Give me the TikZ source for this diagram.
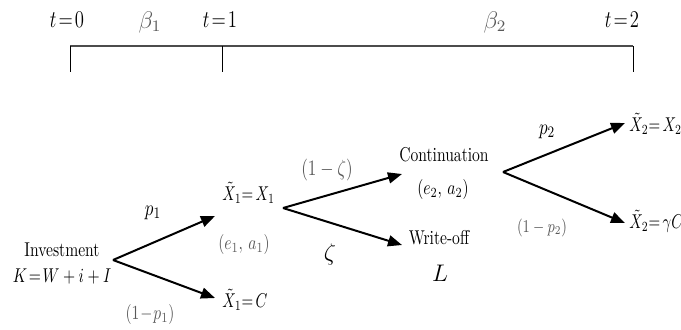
\documentclass[tikz,border=0pt]{standalone}
\usepackage{graphicx}
\usetikzlibrary{arrows.meta}
\newcommand\sq[1]{\scalebox{0.78}[1]{#1}}
\newcommand\sqx[1]{\scalebox{0.75}[1]{#1}}
\begin{document}
\begin{tikzpicture}[x=0.5pt,y=-0.5pt,
  lbl/.style={inner sep=0pt,font=\fontsize{10}{12}\selectfont},
  mlbl/.style={inner sep=0pt,font=\fontsize{11}{13}\selectfont},
  toplbl/.style={inner sep=0pt,font=\fontsize{11.5}{13}\selectfont},
  grey/.style={text=black!65},
  branch/.style={line width=1pt,-{Triangle[length=7pt,width=5.5pt]}},
  tline/.style={line width=0.9pt,black!70},
  tick/.style={line width=0.5pt}]
\useasboundingbox (0,0) rectangle (681,329);
% timeline
\coordinate (T0) at (70,46);
\coordinate (T1) at (222,46);
\coordinate (T2) at (633,46);
\coordinate (B0) at (70,72);
\coordinate (B1) at (222,72);
\coordinate (B2) at (633,72);
\draw[tline] (T0) -- (T2);
\draw[tick] (T0) -- (B0);
\draw[tick] (T1) -- (B1);
\draw[tick] (T2) -- (B2);
\node[toplbl] (l0) at (67,20) {\sq{$t\!=\!0$}};
\node[toplbl,grey] (lb1) at (150,22) {$\beta_1$};
\node[toplbl] (l1) at (220,20) {\sq{$t\!=\!1$}};
\node[toplbl,grey] (lb2) at (495,22) {$\beta_2$};
\node[toplbl] (l2) at (622,20) {\sq{$t\!=\!2$}};
% stage 1
\node[lbl] (inv) at (62,250) {\sq{Investment}};
\node[lbl] (K) at (62,276) {\sq{$K\!=\!W+i+I$}};
\coordinate (b1) at (113,260);
\coordinate (u1) at (215,216);
\coordinate (d1) at (215,298);
\draw[branch] (b1) -- (u1);
\draw[branch] (b1) -- (d1);
\node[mlbl] (p1) at (153,213) {\sq{$p_1$}};
\node[lbl,grey] (q1) at (150,314) {\sq{$(1\!-\!p_1)$}};
\node[lbl,anchor=west] (X1) at (222,193) {\sqx{$\tilde X_1{=}\,X_1$}};
\node[lbl,grey] (ea1) at (244,244) {\sq{$(e_1,\,a_1)$}};
\node[lbl,anchor=west] (C1) at (222,300) {\sqx{$\tilde X_1{=}\,C$}};
% stage 2
\coordinate (b2) at (283,208);
\coordinate (u2) at (402,174);
\coordinate (d2) at (402,245);
\draw[branch] (b2) -- (u2);
\draw[branch] (b2) -- (d2);
\node[mlbl,grey] (z1) at (327,170) {\sq{$(1-\zeta)$}};
\node[lbl,font=\fontsize{13}{14}\selectfont] (z2) at (330,254) {$\zeta$};
\node[lbl] (cont) at (444,155) {\sq{Continuation}};
\node[lbl] (ea2) at (443,189) {\sq{$(e_2,\,a_2)$}};
\node[lbl] (wo) at (439,238) {\sq{Write-off}};
\node[lbl,font=\fontsize{13}{14}\selectfont] (L) at (440,273) {$L$};
% stage 3
\coordinate (b3) at (503,172);
\coordinate (u3) at (625,123);
\coordinate (d3) at (625,223);
\draw[branch] (b3) -- (u3);
\draw[branch] (b3) -- (d3);
\node[mlbl] (p2) at (547,132) {\sq{$p_2$}};
\node[lbl,grey,font=\fontsize{9}{10}\selectfont] (q2) at (542,228) {\sq{$(1-p_2)$}};
\node[lbl,anchor=west] (X2) at (629,124) {\sqx{$\tilde X_2{=}\,X_2$}};
\node[lbl,anchor=west] (C2) at (629,221) {\sqx{$\tilde X_2{=}\,\gamma C$}};
\end{tikzpicture}
\end{document}
